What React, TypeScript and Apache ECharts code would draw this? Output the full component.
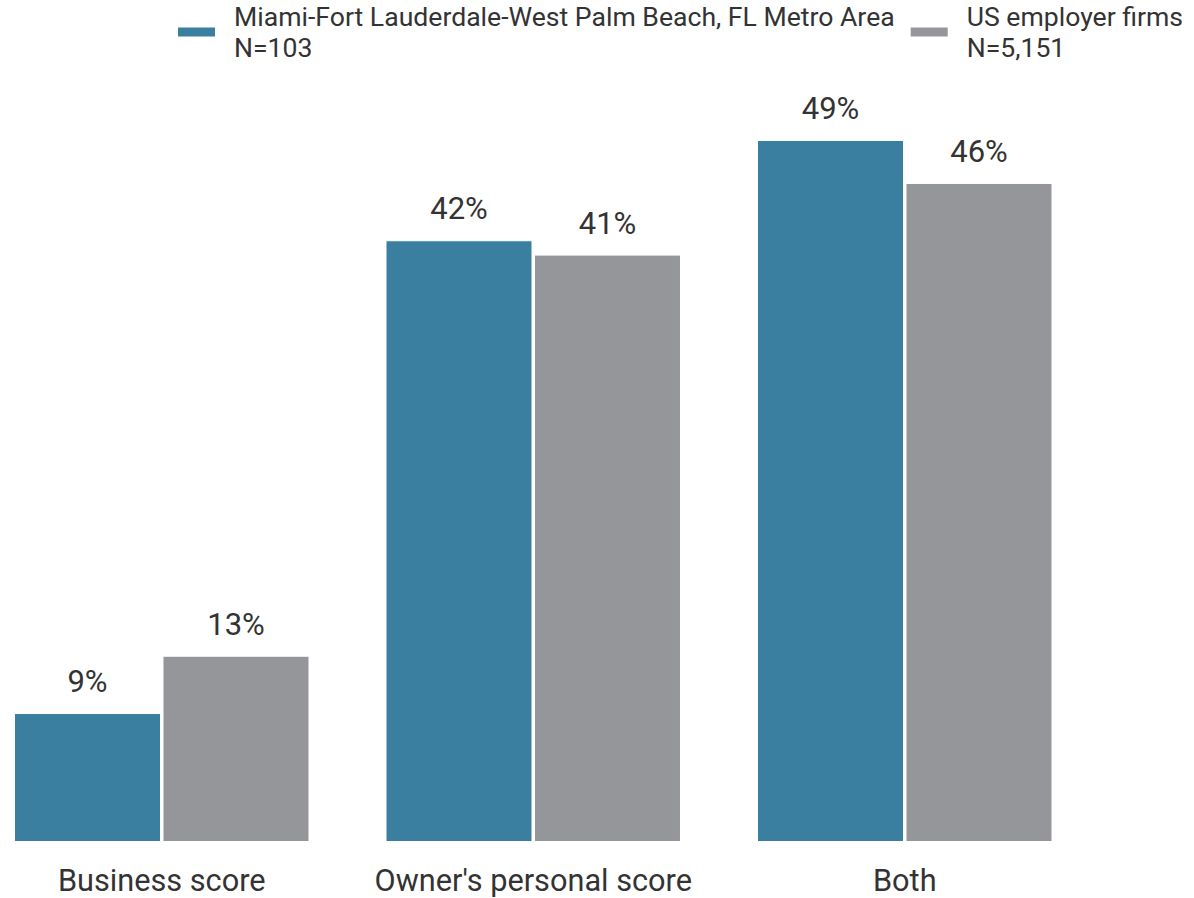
import React, { useEffect, useRef } from "react";
import * as echarts from "echarts";

const categories = ["Business score", "Owner's personal score", "Both"];
const miamiValues = [9, 42, 49];
const usValues = [13, 41, 46];
const seriesNames = [
  "Miami-Fort Lauderdale-West Palm Beach, FL Metro Area\nN=103",
  "US employer firms\nN=5,151",
];

export default function App() {
  const ref = useRef<HTMLDivElement>(null);
  useEffect(() => {
    const chart = echarts.init(ref.current!, null, { renderer: "svg" });
    const label = {
      show: true,
      position: "top",
      distance: 16,
      formatter: "{c}%",
      color: "#333333",
      fontSize: 31,
      fontFamily: "Roboto",
    };
    chart.setOption({
      animation: false,
      legend: {
        top: 1,
        left: 200,
        padding: 0,
        itemWidth: 39,
        itemHeight: 11,
        itemGap: 14,
        icon: "rect",
        textStyle: {
          fontSize: 26.6,
          fontFamily: "Roboto",
          color: "#333333",
          lineHeight: 31,
          padding: [0, 0, 0, 13],
        },
        data: seriesNames,
      },
      grid: { left: 0, right: 103.5, top: 54, bottom: 56 },
      xAxis: {
        type: "category",
        data: categories,
        axisLine: { show: false },
        axisTick: { show: false },
        axisLabel: {
          interval: 0,
          fontSize: 30.7,
          fontFamily: "Roboto",
          color: "#333333",
          margin: 23,
        },
      },
      yAxis: {
        type: "value",
        min: 0,
        max: 55,
        show: false,
        splitLine: { show: false },
      },
      series: [
        {
          name: seriesNames[0],
          type: "bar",
          data: miamiValues,
          barWidth: 147,
          barGap: "1%",
          itemStyle: { color: "#3a7ea0", borderColor: "#ffffff", borderWidth: 1 },
          label,
        },
        {
          name: seriesNames[1],
          type: "bar",
          data: usValues,
          barWidth: 147,
          itemStyle: { color: "#959699", borderColor: "#ffffff", borderWidth: 1 },
          label,
        },
      ],
    });
    return () => chart.dispose();
  }, []);
  return (
    <div
      ref={ref}
      style={{ position: "absolute", left: -24, top: 0, width: 1218, height: 898 }}
    />
  );
}
